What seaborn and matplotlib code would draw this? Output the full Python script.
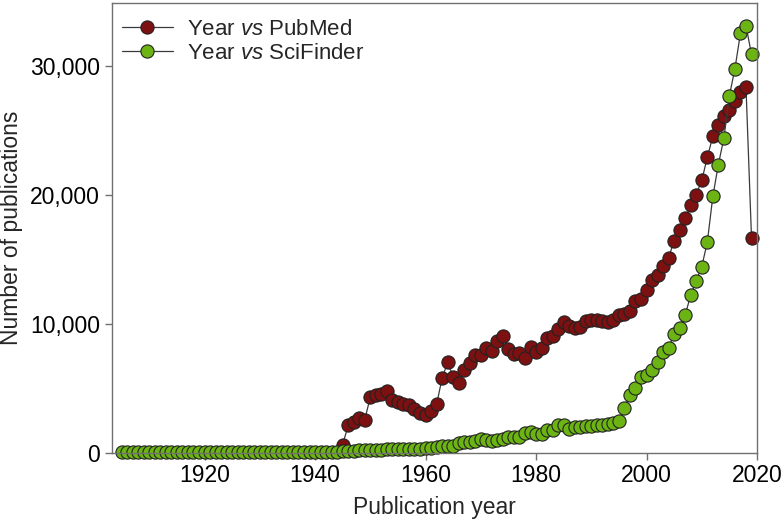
import matplotlib
matplotlib.use("Agg")
import matplotlib.pyplot as plt
import pandas as pd
import seaborn as sns

# publications per year
pubmed_years = list(range(1945, 2020))
pubmed_counts = [
    620, 2100, 2350, 2690, 2560, 4290, 4480, 4560, 4810, 4110,
    3910, 3730, 3700, 3390, 3050, 2950, 3210, 3730, 5770, 7010,
    5880, 5380, 6370, 6930, 7590, 7590, 8100, 7920, 8640, 9010,
    8050, 7660, 7710, 7350, 8180, 7790, 8100, 8900, 9030, 9600,
    10120, 9860, 9680, 9730, 10190, 10300, 10250, 10190, 10100, 10300,
    10710, 10770, 10970, 11750, 11930, 12580, 13410, 13820, 14470, 15120,
    16460, 17290, 18190, 19180, 20030, 21120, 22930, 24540, 25400, 26100,
    26600, 27300, 27950, 28400, 16670,
]

scifinder_years = list(range(1905, 2020))
scifinder_counts = [
    20, 20, 25, 25, 30, 30, 30, 35, 30, 30,
    25, 25, 25, 30, 30, 35, 35, 40, 40, 40,
    45, 45, 50, 50, 50, 55, 55, 55, 60, 60,
    60, 55, 50, 50, 45, 45, 50, 55, 60, 70,
    100, 120, 140, 160, 170, 190, 210, 220, 240, 250,
    260, 270, 280, 290, 310, 330, 360, 410, 490, 540,
    540, 720, 800, 800, 930, 1060, 980, 930, 980, 1060,
    1240, 1240, 1240, 1500, 1630, 1400, 1400, 1710, 1710, 2100,
    2100, 1840, 1970, 2020, 2050, 2080, 2120, 2150, 2200, 2280,
    2450, 3450, 4480, 5020, 5850, 5980, 6420, 7010, 7790, 8130,
    9210, 9650, 10690, 12220, 13350, 14440, 16330, 19880, 22360, 24400,
    27700, 29800, 32550, 33150, 30900,
]

pubmed = pd.DataFrame({"year": pubmed_years, "count": pubmed_counts})
scifinder = pd.DataFrame({"year": scifinder_years, "count": scifinder_counts})

sns.set_style("ticks")
plt.rcParams["font.family"] = ["Liberation Sans", "DejaVu Sans"]
plt.rcParams["mathtext.fontset"] = "custom"
plt.rcParams["mathtext.it"] = "Liberation Sans:italic"
plt.rcParams["mathtext.rm"] = "Liberation Sans"

fig = plt.figure(figsize=(7.84, 5.22), dpi=100)
ax = fig.add_axes([0.1425, 0.1331, 0.8231, 0.8612])

style = dict(color="#3a3a3a", linewidth=0.9, marker="o", markersize=9.5,
             markeredgecolor="#222222", markeredgewidth=0.8, clip_on=False)

sns.lineplot(data=pubmed, x="year", y="count", markerfacecolor="#7d1010",
             label=r"Year $\it{vs}$ PubMed", ax=ax, **style)
sns.lineplot(data=scifinder, x="year", y="count", markerfacecolor="#6cb414",
             label=r"Year $\it{vs}$ SciFinder", ax=ax, **style)

ax.set_xlim(1903.2, 2020)
ax.set_ylim(0, 34900)
ax.set_xticks([1920, 1940, 1960, 1980, 2000, 2020])
ax.set_yticks([0, 10000, 20000, 30000])
ax.yaxis.set_major_formatter(matplotlib.ticker.StrMethodFormatter("{x:,.0f}"))

for side in ax.spines.values():
    side.set_color("#707070")
    side.set_linewidth(1.0)
ax.tick_params(axis="both", colors="#707070", labelcolor="black",
               labelsize=16.5, length=5, width=1.0)

ax.set_xlabel("Publication year", fontsize=16.5)
ax.set_ylabel("Number of publications", fontsize=16.5)
ax.xaxis.set_label_coords(0.5, -0.097)
ax.yaxis.set_label_coords(-0.138, 0.5)

ax.legend(loc="upper left", frameon=False, fontsize=16, handlelength=2.3,
          handletextpad=0.63, borderaxespad=0, labelspacing=0.15,
          bbox_to_anchor=(0.002, 0.985))

fig.savefig("out.png", dpi=100)
